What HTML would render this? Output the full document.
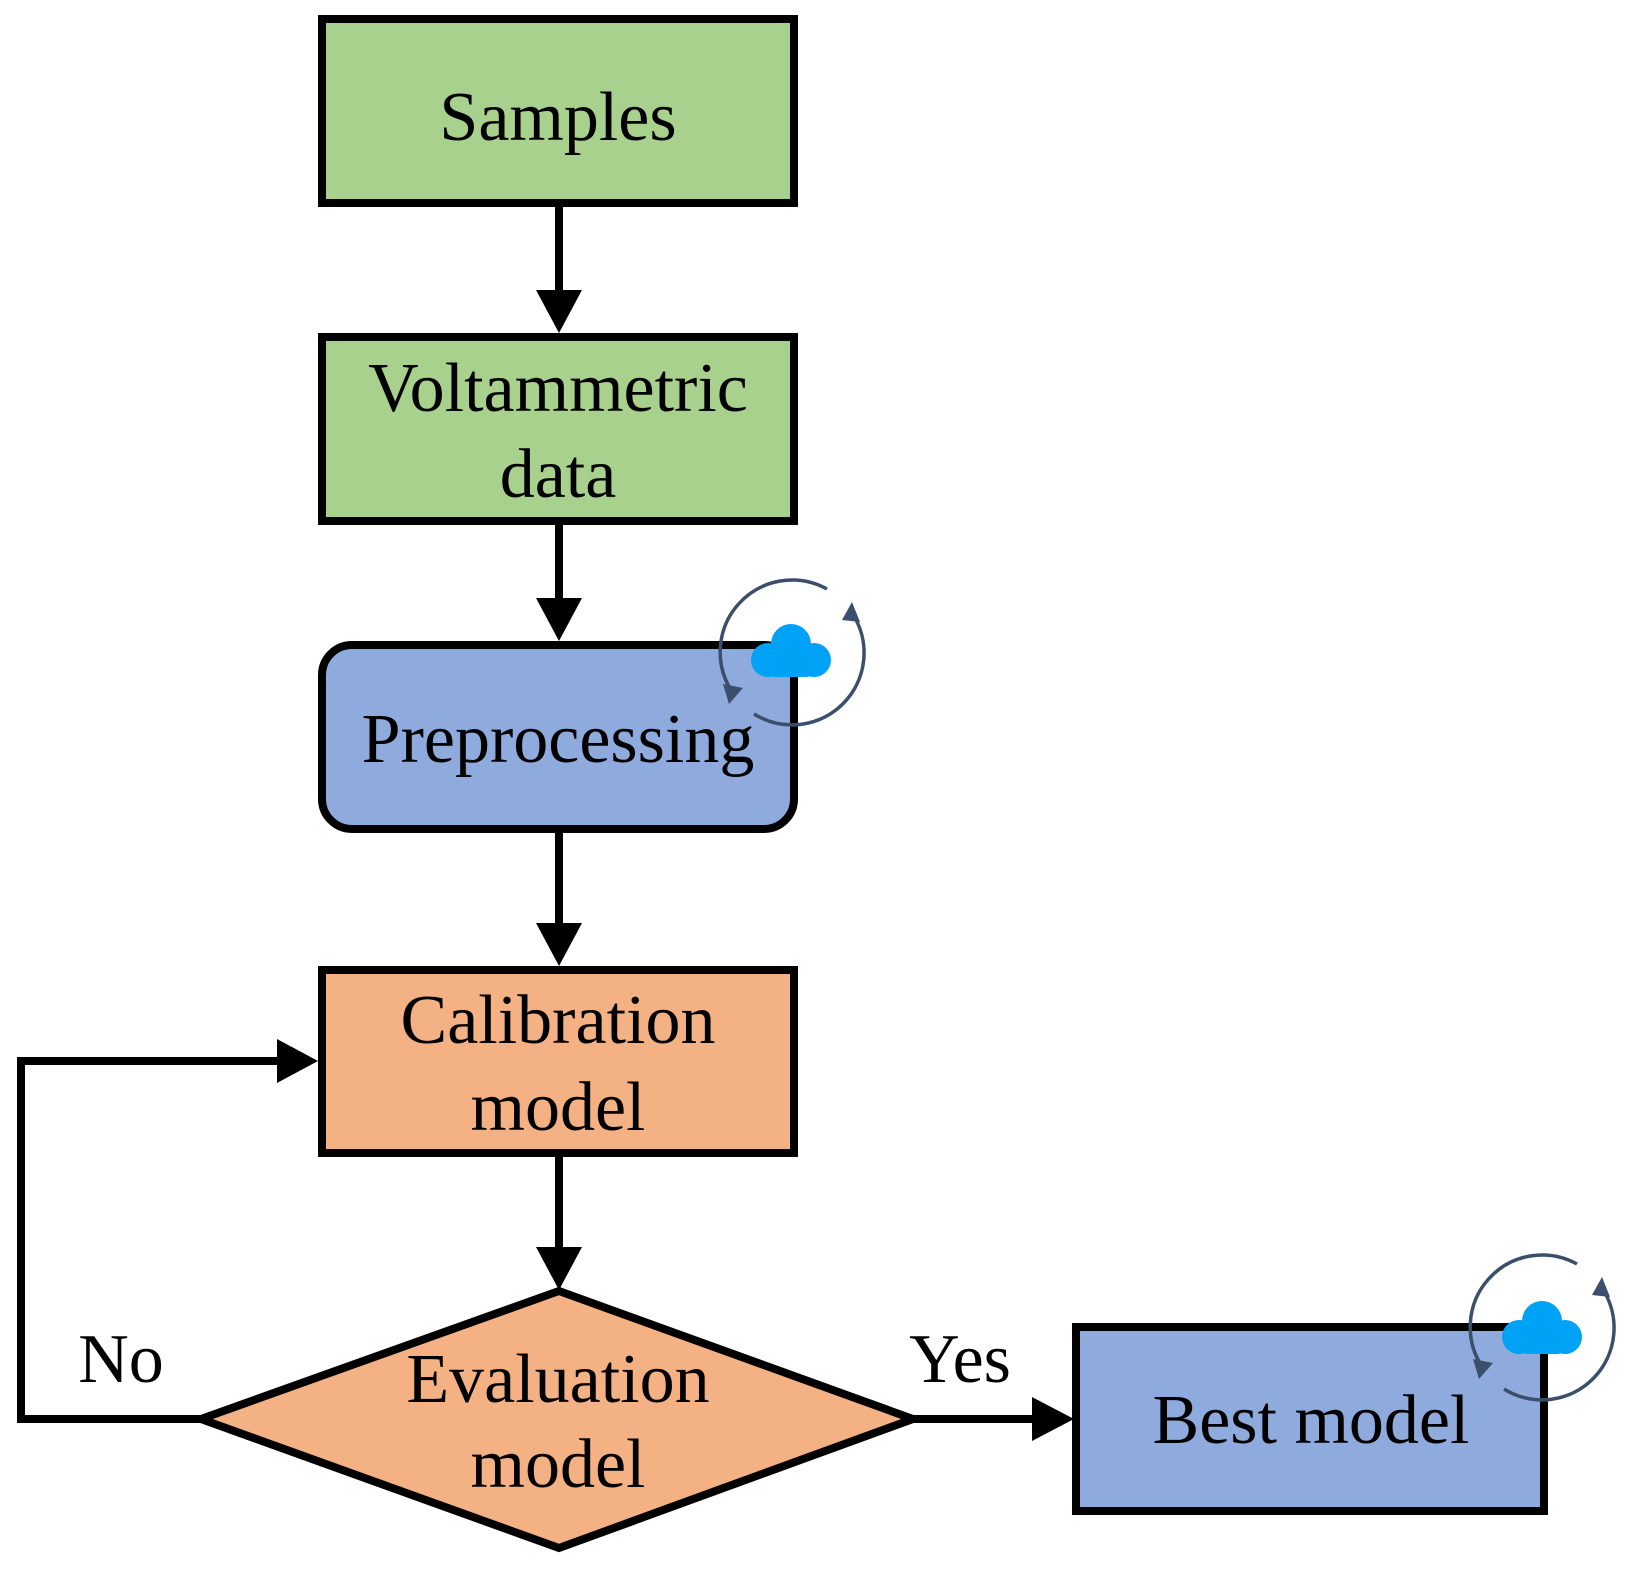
<!DOCTYPE html>
<html><head><meta charset="utf-8"><style>
html,body{margin:0;padding:0;background:#fff;}
svg{display:block}
text{font-family:"Liberation Serif",serif;font-size:70px;fill:#000;text-anchor:middle}
</style></head><body>
<svg width="1628" height="1569" viewBox="0 0 1628 1569" xmlns="http://www.w3.org/2000/svg">
<defs>
<g id="cloud">
<circle cx="40" cy="21" r="20"/>
<circle cx="17" cy="37" r="17"/>
<circle cx="63" cy="37" r="17"/>
<rect x="17" y="28" width="46" height="26" rx="8"/>
</g>
</defs>
<rect x="322" y="19" width="472" height="184" fill="#a9d18e" stroke="#000" stroke-width="8"/>
<rect x="322" y="337" width="472" height="184" fill="#a9d18e" stroke="#000" stroke-width="8"/>
<rect x="322" y="645" width="472" height="184" rx="30" fill="#8faadc" stroke="#000" stroke-width="8"/>
<rect x="322" y="970" width="472" height="183" fill="#f4b183" stroke="#000" stroke-width="8"/>
<polygon points="559,1291 913,1419 559,1548 201,1419" fill="#f4b183" stroke="#000" stroke-width="8"/>
<rect x="1076" y="1327" width="468" height="184" fill="#8faadc" stroke="#000" stroke-width="8"/>
<g stroke="#000" stroke-width="8" fill="none">
<line x1="559" y1="203" x2="559" y2="300"/>
<line x1="559" y1="521" x2="559" y2="600"/>
<line x1="559" y1="829" x2="559" y2="930"/>
<line x1="559" y1="1153" x2="559" y2="1250"/>
<polyline points="201,1419 21,1419 21,1061 280,1061"/>
<line x1="913" y1="1419" x2="1040" y2="1419"/>
</g>
<g fill="#000">
<polygon points="536,290 582,290 559,333"/>
<polygon points="536,598 582,598 559,641"/>
<polygon points="536,923 582,923 559,966"/>
<polygon points="536,1247 582,1247 559,1290"/>
<polygon points="277,1039 277,1083 318,1061"/>
<polygon points="1032,1397 1032,1441 1074,1419"/>
</g>
<text x="558" y="140">Samples</text>
<text x="558" y="411">Voltammetric</text>
<text x="558" y="497">data</text>
<text x="558" y="762">Preprocessing</text>
<text x="558" y="1043">Calibration</text>
<text x="558" y="1130">model</text>
<text x="558" y="1402">Evaluation</text>
<text x="558" y="1487">model</text>
<text x="1311" y="1443">Best model</text>
<text x="121" y="1382">No</text>
<text x="960" y="1382">Yes</text>
<g transform="translate(792,652)">
<g fill="none" stroke="#3b4e6b" stroke-width="3.5">
<path d="M35,-63 A72,72 0 0 0 -59,41"/>
<path d="M-38,62 A72,72 0 0 0 60,-39"/>
</g>
<polygon points="-69,32 -49,36 -63,52" fill="#3b4e6b"/>
<polygon points="60,-50 68,-30 50,-32" fill="#3b4e6b"/>
<g fill="#00a2f5" transform="translate(-41,-29)"><use href="#cloud"/></g>
</g>
<g transform="translate(1542,1327)">
<g fill="none" stroke="#3b4e6b" stroke-width="3.5">
<path d="M35,-63 A72,72 0 0 0 -59,41"/>
<path d="M-38,62 A72,72 0 0 0 60,-39"/>
</g>
<polygon points="-69,32 -49,36 -63,52" fill="#3b4e6b"/>
<polygon points="60,-50 68,-30 50,-32" fill="#3b4e6b"/>
<g fill="#00a2f5" transform="translate(-40,-27)"><use href="#cloud"/></g>
</g>
</svg>
</body></html>
